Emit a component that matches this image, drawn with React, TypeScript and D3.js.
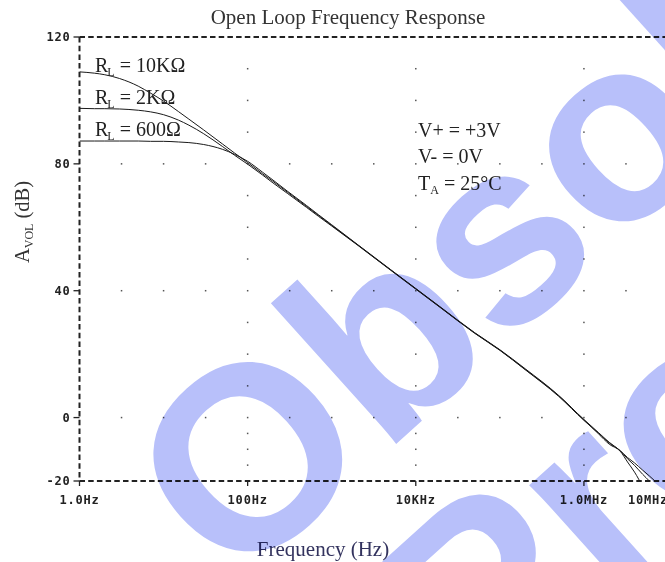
import React from "react";
import * as d3 from "d3";

const FREQ = [1, 1.5, 2, 3, 5, 7, 10, 15, 20, 30, 50, 70, 100, 150, 200, 300, 500, 700, 1e3, 2e3, 5e3, 1e4, 2e4, 5e4, 1e5, 2e5, 5e5, 1e6, 1.5e6, 2e6, 2.7e6, 3.3e6, 4e6, 5e6, 6e6, 7e6];
const GAIN_10K = [109.0, 108.6, 108.1, 106.9, 104.5, 102.3, 99.8, 96.5, 94.1, 90.7, 86.3, 83.4, 80.4, 76.9, 74.5, 71.0, 66.6, 63.7, 60.6, 54.6, 46.6, 40.6, 34.6, 26.7, 21.3, 15.2, 6.9, -0.6, -4.8, -7.8, -10.4, -12.6, -14.3, -16.6, -18.4, -20.0];
const GAIN_2K = [97.5, 97.4, 97.4, 97.3, 96.9, 96.4, 95.5, 93.8, 92.2, 89.5, 85.5, 82.7, 79.9, 76.5, 74.0, 70.6, 66.3, 63.4, 60.4, 54.5, 46.5, 40.5, 34.5, 26.6, 21.2, 15.1, 6.7, -0.9, -5.0, -8.0, -10.5, -13.0, -15.1, -17.9, -20.0, -22.0];
const GAIN_600 = [87.2, 87.2, 87.2, 87.2, 87.2, 87.1, 87.1, 86.9, 86.7, 86.1, 84.6, 83.0, 80.8, 77.4, 74.9, 71.3, 66.9, 63.9, 60.8, 54.7, 46.7, 40.7, 34.7, 26.8, 21.4, 15.4, 7.0, -0.7, -5.2, -8.4, -10.6, -14.0, -17.2, -21.5, -24.0, -26.0];

const X_TICKS = [1, 100, 1e4, 1e6, 1e7];
const X_TICK_LABELS = ["1.0Hz", "100Hz", "10KHz", "1.0MHz", "10MHz"];
const Y_TICKS = [120, 80, 40, 0, -20];
const Y_TICK_LABELS = ["120", "80", "40", "0", "-20"];
const LEGEND = ["10KΩ", "2KΩ", "600Ω"];
const CONDITIONS = ["V+ = +3V", "V- = 0V"];
const WATERMARK = ["Obsolete", "Product(s)"];

const W = 665;
const H = 562;
const x = d3.scaleLog().domain([1, 1e7]).range([79.5, 668]);
const y = d3.scaleLinear().domain([-20, 120]).range([481, 37]);

const SERIF = "'Liberation Serif', 'Times New Roman', serif";
const MONO = "'DejaVu Sans Mono', monospace";
const WM_SIZE = 260;

export default function App() {
  const series = [GAIN_10K, GAIN_2K, GAIN_600];
  const line = d3
    .line<number>()
    .x((_, i) => x(FREQ[i]))
    .y((d) => y(d))
    .curve(d3.curveMonotoneX);

  // dotted grid
  const dots: [number, number][] = [];
  const hGrid = Y_TICKS.filter((v) => v !== 120 && v !== -20);
  const vGrid = X_TICKS.filter((v) => v !== 1 && v !== 1e7);
  const halfDecades = d3.range(1, 14).map((k) => Math.pow(10, k / 2));
  hGrid.forEach((g) => halfDecades.forEach((f) => dots.push([x(f), y(g)])));
  const yDotVals: number[] = [];
  for (let i = 0; i < Y_TICKS.length - 1; i++) {
    const a = Y_TICKS[i];
    const b = Y_TICKS[i + 1];
    for (let q = 1; q < 4; q++) yDotVals.push(a + ((b - a) * q) / 4);
  }
  vGrid.forEach((f) => yDotVals.forEach((v) => dots.push([x(f), y(v)])));

  const left = x(1);
  const right = x(1e7);
  const top = y(120);
  const bottom = y(-20);

  return (
    <svg width={W} height={H} style={{ position: "absolute", left: 0, top: 0, background: "#fff" }}>
      <defs>
        <clipPath id="plot">
          <rect x={left} y={top} width={right - left} height={bottom - top} />
        </clipPath>
      </defs>
      <rect width={W} height={H} fill="#fff" />

      {/* grid dots */}
      {dots.map(([dx, dy], i) => (
        <rect key={i} x={dx - 0.75} y={dy - 0.75} width={1.5} height={1.5} fill="#555" />
      ))}

      {/* axes dashed frame */}
      <g stroke="#222" strokeWidth={2} strokeDasharray="5.5 3.2" fill="none">
        <line x1={left} x2={right} y1={top} y2={top} />
        <line x1={left} x2={right} y1={bottom} y2={bottom} />
        <line x1={left} x2={left} y1={top} y2={bottom} />
      </g>
      {/* ticks */}
      <g stroke="#222" strokeWidth={1.3}>
        {Y_TICKS.map((t) => (
          <line key={t} x1={left - 6} x2={left} y1={y(t)} y2={y(t)} />
        ))}
        {X_TICKS.map((t) => (
          <line key={t} x1={x(t)} x2={x(t)} y1={bottom} y2={bottom + 5} />
        ))}
      </g>
      <g fontFamily={MONO} fontWeight="bold" fontSize={12} fill="#222" letterSpacing={0.8}>
        {Y_TICKS.map((t, i) => (
          <text key={t} x={left - 9} y={y(t)} dy="0.36em" textAnchor="end">
            {Y_TICK_LABELS[i]}
          </text>
        ))}
        {X_TICKS.map((t, i) => (
          <text key={t} x={x(t)} y={504} textAnchor={i === X_TICKS.length - 1 ? "end" : "middle"}>
            {X_TICK_LABELS[i]}
          </text>
        ))}
      </g>

      {/* curves */}
      <g clipPath="url(#plot)" fill="none" stroke="#1a1a1a" strokeWidth={1}>
        {series.map((s, i) => (
          <path key={i} d={line(s) || ""} />
        ))}
      </g>

      {/* texts */}
      <text x={348} y={24} textAnchor="middle" fontFamily={SERIF} fontSize={21} fill="#333">
        Open Loop Frequency Response
      </text>
      <text x={323} y={556} textAnchor="middle" fontFamily={SERIF} fontSize={21} fill="#33335e">
        Frequency (Hz)
      </text>
      <text transform="translate(29,222) rotate(-90)" textAnchor="middle" fontFamily={SERIF} fontSize={20.5} fill="#333">
        A<tspan fontSize={12} dy={4}>VOL</tspan>
        <tspan dy={-4}> (dB)</tspan>
      </text>
      <g fontFamily={SERIF} fontSize={20} fill="#222">
        {LEGEND.map((l, i) => (
          <text key={l} x={95} y={72 + i * 32}>
            R<tspan fontSize={12} dx={-1} dy={4}>L</tspan>
            <tspan dy={-4}> = {l}</tspan>
          </text>
        ))}
        {CONDITIONS.map((c, i) => (
          <text key={c} x={418} y={136.5 + i * 26.5}>
            {c}
          </text>
        ))}
        <text x={418} y={189.5}>
          T<tspan fontSize={12} dy={4}>A</tspan>
          <tspan dy={-4}> = 25°C</tspan>
        </text>
      </g>

      {/* watermark */}
      <g
        style={{ mixBlendMode: "multiply" }}
        fontFamily="'Liberation Sans', Arial, sans-serif"
        fontWeight="bold"
        fontSize={WM_SIZE}
        fill="#b8c0fa"
        transform="translate(246,454) rotate(-42)"
      >
        <text x={-0.389 * WM_SIZE} y={0.358 * WM_SIZE}>{WATERMARK[0]}</text>
        <text x={-0.389 * WM_SIZE + 100} y={0.358 * WM_SIZE + 257}>{WATERMARK[1]}</text>
      </g>
    </svg>
  );
}
